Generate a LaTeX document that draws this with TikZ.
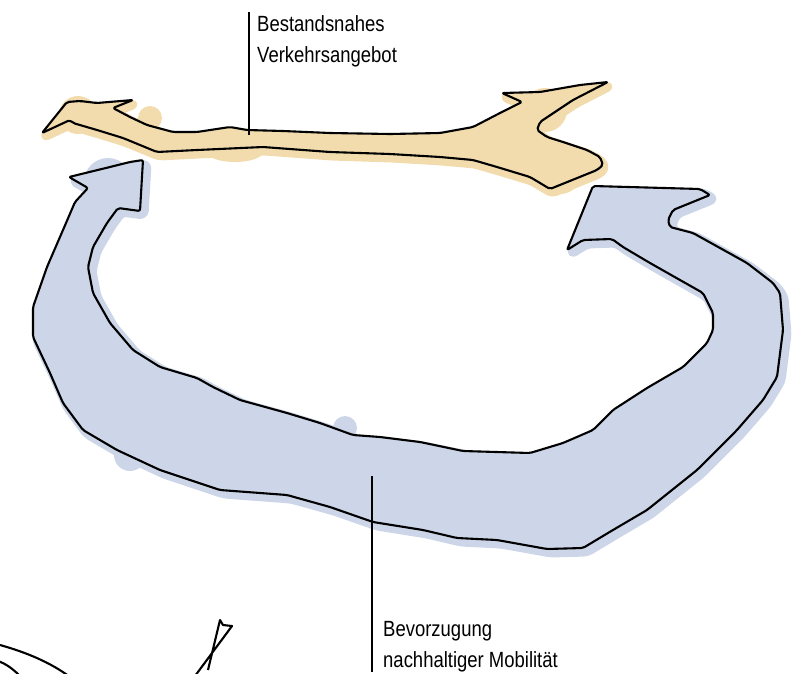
\documentclass[tikz,border=0pt]{standalone}
\usepackage{fontspec}
\setmainfont{Liberation Sans}[FakeStretch=0.84]
\definecolor{mobblue}{HTML}{CDD6E8}
\definecolor{angebotsand}{HTML}{F2DCAE}
\def\mobband{(69,177) -- (88,188) -- (75,202) -- (63,230) -- (47,267) -- (33,307) -- (33,337) -- (50,373) -- (63,403) -- (83,430) -- (117,450) -- (160,470) -- (220,490) -- (287,495) -- (330,507) -- (373,522) -- (423,530) -- (457,538) -- (497,540) -- (547,549) -- (583,548) -- (613,530) -- (647,510) -- (697,470) -- (737,430) -- (763,400) -- (777,377) -- (783,330) -- (780,293) -- (773,283) -- (747,263) -- (720,248) -- (693,233) -- (670,227) -- (668,220) -- (673,210) -- (710,195) -- (700,189) -- (593,186) -- (567,250) -- (583,240) -- (612,239) -- (623,247) -- (650,263) -- (680,280) -- (703,293) -- (713,313) -- (713,330) -- (707,343) -- (683,367) -- (647,388) -- (613,410) -- (593,430) -- (563,443) -- (530,453) -- (463,451) -- (420,442) -- (380,437) -- (353,435) -- (320,423) -- (287,413) -- (240,400) -- (213,387) -- (197,378) -- (160,367) -- (133,350) -- (110,323) -- (93,293) -- (88,267) -- (93,247) -- (107,223) -- (118,208) -- (140,211) -- (143,160) -- (130,162) -- (110,167) -- cycle}
\def\angebotband{(42,133) -- (67,102) -- (80,101) -- (97,103) -- (133,100) -- (113,108) -- (130,117) -- (147,125) -- (173,132) -- (197,132) -- (230,127) -- (247,130) -- (283,131) -- (330,133) -- (390,134) -- (440,133) -- (473,127) -- (500,113) -- (522,102) -- (502,93) -- (540,92) -- (580,85) -- (608,82) -- (573,100) -- (540,122) -- (537,130) -- (547,137) -- (563,142) -- (587,150) -- (600,157) -- (603,165) -- (597,170) -- (550,189) -- (530,177) -- (497,167) -- (473,160) -- (440,157) -- (390,154) -- (330,152) -- (263,147) -- (197,150) -- (157,152) -- (123,138) -- (97,130) -- (73,123) -- (70,120) -- cycle}
\begin{document}
\begin{tikzpicture}[x=1pt,y=-1pt,
  sketch/.style={line width=2.1pt,line join=round,rounded corners=2pt},
  smear/.style={line width=9pt,line join=round,rounded corners=4pt},
  leader/.style={line width=1.4pt},
  lbl/.style={inner sep=0pt,anchor=north west,align=left,font=\fontsize{22}{31}\selectfont}]
\useasboundingbox (0,0) rectangle (795,673);
\clip (0,0) rectangle (795,673);
\begin{scope}[shift={(4,4)}]
\filldraw[smear,mobblue] \mobband;
\end{scope}
\fill[mobblue] (108,182) circle (24) (345,428) circle (12) (130,455) circle (16) (640,215) circle (20);
\begin{scope}[shift={(2,4)}]
\filldraw[smear,angebotsand] \angebotband;
\end{scope}
\fill[angebotsand] (78,115) circle (19) (150,118) circle (12) (560,172) circle (22) (545,110) circle (22) (235,152) ellipse (28 and 10) (480,148) circle (12);
\draw[sketch] \mobband;
\draw[sketch] \angebotband;
\draw[sketch] (0,645) .. controls (25,652) and (50,662) .. (70,677);
\draw[sketch] (-2,661) .. controls (6,664) and (12,668) .. (20,676);
\draw[sketch,rounded corners=0pt] (195,676) -- (232,626) -- (223,625) -- (220,620) -- (208,670);
\node[lbl] (bestand) at (257,15) {Bestandsnahes\\Verkehrsangebot};
\node[lbl] (bevor) at (383,621) {Bevorzugung\\nachhaltiger Mobilität};
\coordinate (bestandfoot) at (249,135);
\coordinate (bevorfoot) at (372,476);
\draw[leader,shorten >=-3pt] (bestandfoot) -- (bestandfoot |- bestand.north);
\draw[leader] (bevorfoot) -- (bevorfoot |- bevor.south);
\end{tikzpicture}
\end{document}
